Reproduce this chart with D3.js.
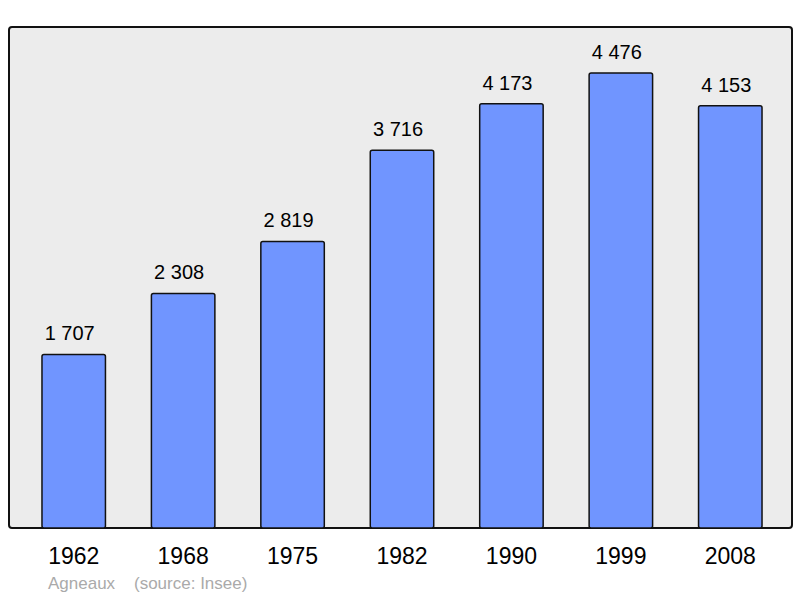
<html>
<script src='https://d3js.org/d3.v7.min.js'></script>
<body style="margin:0" onload='init()'>
<svg width=800 height=598></svg>
<script>
const years = ['1962','1968','1975','1982','1990','1999','2008'];
const population = [1707, 2308, 2819, 3716, 4173, 4476, 4153];
const labels = ['1 707','2 308','2 819','3 716','4 173','4 476','4 153'];

function init() {
	var svg = d3.select('svg').style('font-family', 'Liberation Sans, Arial, sans-serif');

	// frame
	svg.append('rect')
		.attr('x', 9).attr('y', 27).attr('width', 783).attr('height', 501)
		.attr('rx', 3)
		.style('fill', '#ececec').style('stroke', '#111').style('stroke-width', 2);

	var x = d3.scaleBand().domain(years).range([19, 785]).paddingInner(0.42).paddingOuter(0.21);
	var y = d3.scaleLinear().domain([0, 4476]).range([528, 73]);

	svg.selectAll('rect.bar')
		.data(population)
		.enter()
		.append('rect').attr('class', 'bar')
		.attr('x', (d, i) => x(years[i]))
		.attr('y', d => y(d))
		.attr('width', x.bandwidth())
		.attr('height', d => 528 - y(d))
		.attr('rx', 2)
		.style('fill', '#7095ff').style('stroke', '#111').style('stroke-width', 1.5);

	svg.selectAll('text.val')
		.data(population)
		.enter()
		.append('text').attr('class', 'val')
		.attr('x', (d, i) => x(years[i]) + x.bandwidth() / 2 - 4)
		.attr('y', d => y(d) - 14)
		.attr('text-anchor', 'middle')
		.style('font-size', '20px')
		.text((d, i) => labels[i]);

	var axis = svg.append('g')
		.attr('transform', 'translate(0,528)')
		.call(d3.axisBottom(x).tickSize(0).tickPadding(20));
	axis.select('.domain').remove();
	axis.selectAll('text').style('font-size', '23px').style('font-family', 'Liberation Sans, Arial, sans-serif').attr('fill', '#000');

	svg.append('text')
		.attr('x', 48).attr('y', 589)
		.style('font-size', '17px').style('fill', '#aaa')
		.text('Agneaux\u00a0\u00a0\u00a0\u00a0(source: Insee)');
}
</script>
</body>
</html>
